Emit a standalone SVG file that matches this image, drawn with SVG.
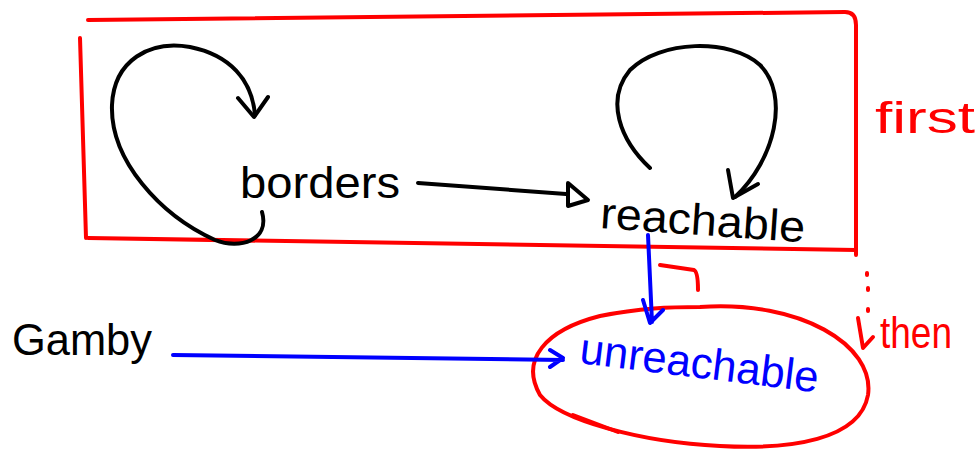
<svg xmlns="http://www.w3.org/2000/svg" width="980" height="455" viewBox="0 0 980 455">
<defs>
<style>
.pen{fill:none;stroke-width:4;stroke-linecap:round;stroke-linejoin:round}
.k{stroke:#000}
.r{stroke:#f00}
.b{stroke:#00f}
.t{font-family:"Liberation Sans","DejaVu Sans",sans-serif;font-size:44px}
</style>
</defs>
<rect width="980" height="455" fill="#fff"/>
<g id="first-region">
<path class="pen r" d="M80,38 L86,238 M88,20 L845,12 Q856,12 856,25 L856,255 M88,238 L856,250"/>
</g>
<g id="first-label"><text class="t" x="875" y="133" fill="#f00" textLength="100" lengthAdjust="spacingAndGlyphs">first</text></g>
<g id="then-label">
<path class="pen r" d="M867,273 l0,2 M868,288 l0,2 M868,309 l0,2 M858,318 L863,348 L873,337"/>
<text class="t" x="880" y="348" fill="#f00" font-size="40" textLength="72" lengthAdjust="spacingAndGlyphs">then</text>
</g>
<g id="borders"><text class="t" x="240" y="198" fill="#000" textLength="160" lengthAdjust="spacingAndGlyphs">borders</text></g>
<g id="reachable"><text class="t" x="600" y="235" fill="#000" textLength="205" lengthAdjust="spacingAndGlyphs" transform="rotate(4 700 225)">reachable</text></g>
<g id="unreachable">
<path class="pen r" d="M700,307 C800,300 875,345 868,395 C860,440 790,450 720,446 C640,442 560,420 540,395 C520,360 545,330 600,316 C640,308 670,307 700,307 Z"/>
<path class="pen r" d="M573,415 L618,432" stroke-width="6"/>
<text class="t" x="578" y="378" fill="#00f" textLength="240" lengthAdjust="spacingAndGlyphs" transform="rotate(7 700 375)">unreachable</text>
</g>
<g id="gamby"><text class="t" x="12" y="355" fill="#000" font-size="50" textLength="140" lengthAdjust="spacingAndGlyphs">Gamby</text></g>
<g id="connectors">
<path class="pen k" d="M262,212 C270,240 240,250 215,240 C160,215 110,160 112,105 C114,60 150,40 190,47 C230,55 252,80 255,115"/>
<path class="pen k" d="M238,98 L254,117 L268,97"/>
<path class="pen k" d="M650,168 C620,140 605,100 630,70 C660,40 730,38 760,65 C790,95 775,160 735,197"/>
<path class="pen k" d="M728,170 L733,198 L758,184"/>
<path class="pen k" d="M418,183 L566,194"/>
<path class="pen k" d="M568,183 L588,200 L568,206 Z"/>
<path class="pen b" d="M648,235 L652,322 M643,300 L650,323 L663,310"/>
<path class="pen r" d="M660,265 L694,270 Q698,272 698,290"/>
<path class="pen b" d="M173,355 L563,360 M550,350 L563,358 L550,367"/>
</g>
</svg>
